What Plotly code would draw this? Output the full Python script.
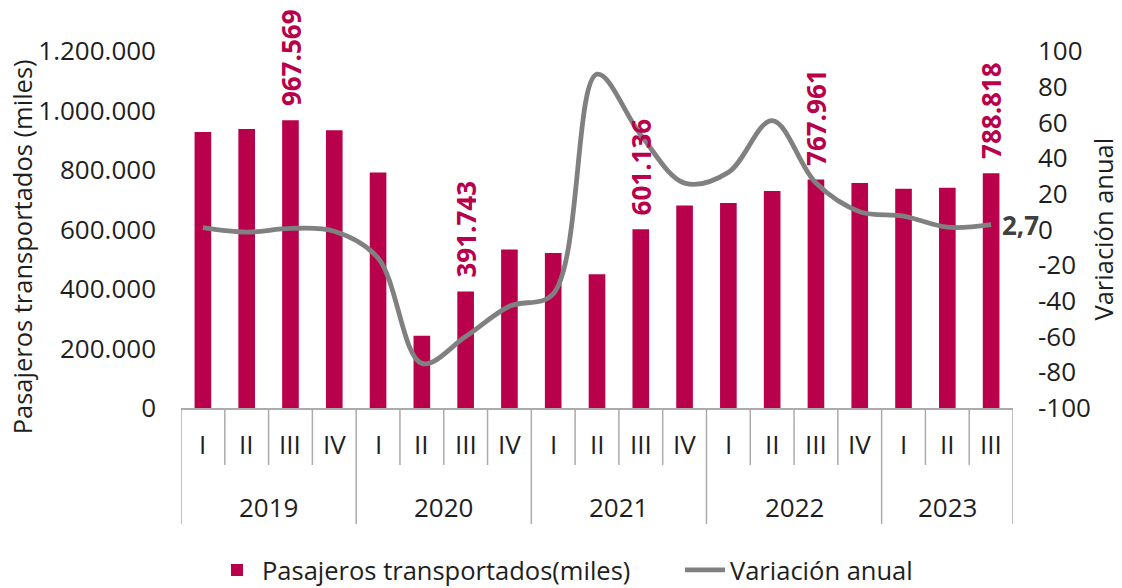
import plotly.graph_objects as go

years = ["2019", "2020", "2021", "2022", "2023"]
quarters = ["I", "II", "III", "IV",
            "I", "II", "III", "IV",
            "I", "II", "III", "IV",
            "I", "II", "III", "IV",
            "I", "II", "III"]
year_of = ["2019"] * 4 + ["2020"] * 4 + ["2021"] * 4 + ["2022"] * 4 + ["2023"] * 3
pasajeros = [928000, 938000, 967569, 934000,
             792000, 243000, 391743, 533000,
             521000, 450000, 601136, 681000,
             689000, 729000, 767961, 756000,
             737000, 740000, 788818]
variacion = [1, -1.5, 0.6, -1,
             -16, -75, -60, -43,
             -36, 87, 53, 26,
             32, 61, 26, 10,
             7.5, 1.3, 2.7]
labelled = {2: "967.569", 6: "391.743", 10: "601.136", 14: "767.961", 18: "788.818"}
end_label = "2,7"
right_ticks = [-100, -80, -60, -40, -20, 0, 20, 40, 60, 80, 100]
right_ticktext = ["-100", "-80", "-60", "-40", "-20", "0", "20", "40", "60", "80", "100"]

BAR = "#B8004B"
LINE = "#808080"
GRID = "#ABABAB"
TXT = "#1E1E1E"
FONT = "Open Sans"
FS = 26
FST = 25.5

n = len(pasajeros)
xs = list(range(n))

fig = go.Figure()
fig.add_trace(go.Bar(x=xs, y=pasajeros, name="Pasajeros transportados(miles)",
                     marker=dict(color=BAR, line=dict(width=0)), yaxis="y", legend="legend"))
fig.add_trace(go.Scatter(x=xs, y=variacion, name="Variación anual", mode="lines",
                         line=dict(color=LINE, width=4.8, shape="spline", smoothing=1.0),
                         yaxis="y2", cliponaxis=False, legend="legend2"))

ann = []
for i, txt in labelled.items():
    ann.append(dict(x=xs[i], y=pasajeros[i], xref="x", yref="y", text=f"<b>{txt}</b>",
                    textangle=-90, showarrow=False, yanchor="bottom", xanchor="center",
                    yshift=12, font=dict(family=FONT, size=FS, color=BAR)))
ann.append(dict(x=xs[-1], y=variacion[-1], xref="x", yref="y2", text=f"<b>{end_label}</b>",
                showarrow=False, xanchor="left", yanchor="middle", xshift=9,
                font=dict(family=FONT, size=FS, color="#404040")))
# quarter labels
for i, q in enumerate(quarters):
    ann.append(dict(x=xs[i], y=0, xref="x", yref="paper", text=q, showarrow=False,
                    yanchor="middle", yshift=-36, font=dict(family=FONT, size=FS, color=TXT)))
# year labels and separators
shapes = []
for yname in years:
    idx = [i for i, yy in enumerate(year_of) if yy == yname]
    a, b = idx[0], idx[-1]
    ann.append(dict(x=(a + b) / 2, y=0, xref="x", yref="paper", text=yname, showarrow=False,
                    yanchor="middle", yshift=-99, font=dict(family=FONT, size=FS, color=TXT)))
    for k in range(a + 1, b + 1):
        shapes.append(dict(type="line", xref="x", yref="paper", x0=k - 0.5, x1=k - 0.5,
                           ysizemode="pixel", yanchor=0, y0=0, y1=-57,
                           line=dict(color=GRID, width=1.5)))
    shapes.append(dict(type="line", xref="x", yref="paper", x0=a - 0.5, x1=a - 0.5,
                       ysizemode="pixel", yanchor=0, y0=0, y1=-116,
                       line=dict(color=GRID, width=1.5)))
shapes.append(dict(type="line", xref="x", yref="paper", x0=n - 0.5, x1=n - 0.5,
                   ysizemode="pixel", yanchor=0, y0=0, y1=-116,
                   line=dict(color=GRID, width=1.5)))

# axis titles
ann.append(dict(x=0, y=0.45, xref="paper", yref="paper", xshift=22 - 181,
                text="Pasajeros transportados (miles)",
                textangle=-90, showarrow=False, xanchor="center", yanchor="middle",
                font=dict(family=FONT, size=FST, color=TXT)))
ann.append(dict(x=1.0, y=0.5, xref="paper", yref="paper", text="Variación anual",
                textangle=-90, showarrow=False, xanchor="center", yanchor="middle", xshift=89,
                font=dict(family=FONT, size=FST, color=TXT)))

leg_common = dict(orientation="h", xref="container", yref="container", y=0.03,
                  xanchor="left", yanchor="middle", itemwidth=40,
                  font=dict(family=FONT, size=FST, color=TXT), bgcolor="rgba(0,0,0,0)")

fig.update_layout(
    width=1122, height=588,
    margin=dict(l=181, r=109, t=51, b=180, autoexpand=False),
    paper_bgcolor="white", plot_bgcolor="white",
    separators=",.",
    bargap=0.62,
    showlegend=True,
    legend=dict(x=212 / 1122, **leg_common),
    legend2=dict(x=680 / 1122, **leg_common),
    xaxis=dict(range=[-0.5, n - 0.5], showticklabels=False, showgrid=False, zeroline=False,
               showline=True, linecolor=GRID, linewidth=1.5, ticks=""),
    yaxis=dict(range=[0, 1200000], dtick=200000, tickformat=",d", showgrid=False,
               zeroline=False, showline=False, ticks="", ticklabelstandoff=24,
               tickfont=dict(family=FONT, size=FS, color=TXT)),
    yaxis2=dict(range=[-100, 100], tickmode="array", tickvals=right_ticks,
                ticktext=right_ticktext, overlaying="y", side="right", showgrid=False,
                zeroline=False, showline=False, ticks="", ticklabelstandoff=24,
                tickfont=dict(family=FONT, size=FS, color=TXT)),
    annotations=ann, shapes=shapes,
    font=dict(family=FONT, size=FS, color=TXT),
)

fig.write_html("out.html", config={"displayModeBar": False},
               post_script="document.body.style.margin='0';document.body.style.overflow='hidden';")
